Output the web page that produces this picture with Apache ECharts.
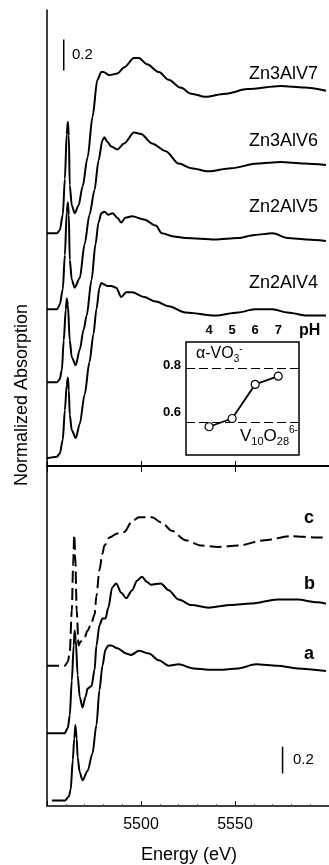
<!DOCTYPE html>
<html>
<head>
<meta charset="utf-8">
<script src="https://cdn.jsdelivr.net/npm/echarts@6/dist/echarts.min.js"></script>
<style>
html, body { margin: 0; padding: 0; background: #fff; }
#main { width: 329px; height: 865px; }
</style>
</head>
<body>
<div id="main"></div>
<script>
// spectra as [energy eV, normalized absorption + stacking offset]
var zn3alv7 = [[5450,1.50],[5455.3,1.50],[5456.8,1.52],[5458.4,1.62],[5459.5,1.85],[5460.5,2.14],[5461.1,2.22],[5461.6,2.13],[5462.1,1.81],[5463.2,1.68],[5464.7,1.63],[5466.8,1.68],[5468.9,1.80],[5471.6,1.99],[5474.2,2.25],[5476.8,2.49],[5478.9,2.54],[5480,2.54],[5483.2,2.52],[5487.4,2.53],[5491,2.57],[5496.3,2.63],[5498.9,2.63],[5503.2,2.59],[5509.5,2.54],[5514.7,2.49],[5521,2.44],[5526.8,2.40],[5534.2,2.38],[5544.7,2.40],[5556.8,2.43],[5574.2,2.45],[5586.8,2.44],[5598.4,2.42]];
var zn3alv6 = [[5450,1.01],[5455.3,1.01],[5456.8,1.04],[5458.4,1.14],[5459.5,1.36],[5460.5,1.64],[5461.1,1.70],[5461.6,1.62],[5462.1,1.33],[5463.2,1.20],[5464.7,1.15],[5467.4,1.21],[5470,1.43],[5472.6,1.62],[5475.3,1.78],[5477.4,1.97],[5479.5,2.10],[5480.5,2.12],[5482.1,2.09],[5484.2,2.06],[5487.4,2.04],[5491,2.08],[5496.3,2.15],[5500,2.14],[5505.8,2.08],[5513.2,2.03],[5520,1.95],[5526.8,1.92],[5535.8,1.90],[5547.9,1.92],[5562.1,1.95],[5574.2,1.96],[5586.8,1.95],[5598.4,1.94]];
var zn2alv5 = [[5450,0.54],[5455.3,0.54],[5456.8,0.56],[5457.9,0.62],[5458.9,0.81],[5460,1.01],[5460.5,1.08],[5461.1,1.04],[5462.1,0.81],[5463.2,0.70],[5465.3,0.65],[5467.4,0.75],[5469.5,0.88],[5471.1,0.97],[5473.7,1.20],[5475.8,1.43],[5477.4,1.57],[5478.9,1.63],[5480.5,1.64],[5482.6,1.62],[5485,1.63],[5487.4,1.60],[5489.5,1.57],[5491.6,1.60],[5495.3,1.61],[5501.6,1.59],[5507.9,1.55],[5511.1,1.50],[5517.4,1.48],[5523.7,1.47],[5539.5,1.46],[5551.6,1.47],[5560.5,1.49],[5570,1.50],[5577.9,1.47],[5588.4,1.46],[5598.4,1.45]];
var zn2alv4 = [[5450,0.05],[5455.3,0.06],[5456.8,0.08],[5458.4,0.17],[5459.5,0.36],[5460.5,0.52],[5461.1,0.57],[5461.6,0.49],[5462.1,0.33],[5463.2,0.23],[5465.3,0.18],[5467.4,0.27],[5470,0.46],[5472.6,0.67],[5474.7,0.85],[5476.3,1.01],[5477.9,1.15],[5478.9,1.18],[5480.5,1.17],[5482.1,1.16],[5484.2,1.16],[5486.8,1.15],[5489.5,1.09],[5492.1,1.12],[5495.3,1.12],[5501.6,1.09],[5507.9,1.06],[5514.7,1.03],[5523.7,0.99],[5539.5,0.97],[5551.6,0.99],[5560.5,1.01],[5570,1.01],[5577.9,0.99],[5588.4,0.97],[5598.4,0.97]];

var refA = [[5452.6,0.04],[5459.5,0.04],[5461.6,0.07],[5462.6,0.12],[5463.7,0.34],[5464.5,0.50],[5465.1,0.60],[5465.8,0.50],[5466.3,0.36],[5467.4,0.25],[5468.9,0.19],[5471.6,0.26],[5474.2,0.39],[5476.3,0.60],[5477.9,0.86],[5479.5,1.04],[5481.1,1.16],[5482.6,1.19],[5484.2,1.19],[5487.4,1.17],[5492.1,1.13],[5494.7,1.12],[5498.9,1.15],[5504.2,1.13],[5509.5,1.08],[5514.7,1.04],[5520,1.05],[5527.9,1.02],[5535.8,1.01],[5543.7,1.01],[5551.6,1.02],[5561.1,1.05],[5572.6,1.04],[5583.2,1.02],[5598.4,1.00]];
var refB = [[5450,0.54],[5459.5,0.54],[5461.1,0.58],[5462.1,0.67],[5463.2,0.93],[5464.2,1.19],[5464.7,1.30],[5465.3,1.23],[5466.3,0.97],[5467.4,0.81],[5468.9,0.73],[5470.5,0.81],[5471.6,0.87],[5473.7,0.89],[5475.3,1.01],[5476.3,1.19],[5477.9,1.34],[5479.5,1.39],[5481.1,1.39],[5482.6,1.47],[5484.7,1.62],[5486.8,1.65],[5489.5,1.58],[5492.1,1.54],[5495.3,1.60],[5497.9,1.67],[5500.5,1.70],[5503.2,1.66],[5505.3,1.64],[5510.5,1.65],[5514.7,1.60],[5520,1.53],[5526.8,1.49],[5535.8,1.47],[5547.9,1.49],[5558.4,1.50],[5572.6,1.53],[5583.2,1.53],[5593.7,1.51],[5598.4,1.50]];
var refC = [[5450,1.04],[5459.5,1.04],[5461.1,1.07],[5462.1,1.14],[5463.2,1.45],[5463.9,1.79],[5464.5,2.01],[5465,1.86],[5465.8,1.45],[5466.8,1.19],[5467.9,1.22],[5470,1.25],[5471.6,1.30],[5473.7,1.36],[5475.3,1.42],[5476.3,1.56],[5477.9,1.75],[5479.5,1.87],[5480.5,1.93],[5483.2,1.99],[5487.4,2.02],[5491,2.03],[5495.3,2.11],[5498.9,2.14],[5505.8,2.14],[5511.1,2.10],[5516.3,2.04],[5523.7,1.97],[5532.1,1.93],[5541.1,1.92],[5551.6,1.93],[5565.8,1.97],[5579.5,2.00],[5593.7,1.99],[5598.4,1.99]];

// inset: pre-edge ratio vs pH
var insetPH = [4, 5, 6, 7];
var insetRatio = [0.54, 0.575, 0.72, 0.755];
var refLevels = [0.79, 0.555];

// 0.2 scale bars
var barTop = [[5458.9, 2.55], [5458.9, 2.75]];
var barBottom = [[5575.3, 0.24], [5575.3, 0.44]];

var energyLabels = [5500, 5550];

var font = 'Liberation Sans, Arial, Helvetica, sans-serif';
var chart = echarts.init(document.getElementById('main'));

function curve(data, xi, yi, dash) {
    return {
        type: 'line', data: data, xAxisIndex: xi, yAxisIndex: yi,
        showSymbol: false, smooth: 0.3, smoothMonotone: 'x',
        lineStyle: { color: '#000', width: 2, type: dash || 'solid' },
        silent: true
    };
}
function bar(data, xi, yi) {
    return {
        type: 'line', data: data, xAxisIndex: xi, yAxisIndex: yi,
        showSymbol: false, lineStyle: { color: '#000', width: 1.5 }, silent: true
    };
}
var ex = {
    type: 'value', min: 5450, max: 5600, interval: 50,
    axisLine: { show: true, lineStyle: { color: '#000', width: 1.5 } },
    axisTick: { show: true, inside: true, length: 5, lineStyle: { color: '#000', width: 1 } },
    axisLabel: { show: false },
    splitLine: { show: false }
};
function xa(extra) { return Object.assign({}, ex, extra); }

var option = {
    animation: false,
    backgroundColor: '#fff',
    grid: [
        { left: 47, top: 10, width: 285, height: 456 },
        { left: 47, top: 466, width: 285, height: 340 },
        { left: 186, top: 342, width: 113, height: 113, show: true, borderColor: '#000', borderWidth: 1.5, backgroundColor: '#fff', z: 5 }
    ],
    xAxis: [
        xa({ gridIndex: 0, position: 'top', axisTick: { inside: true, length: 6, lineStyle: { color: '#000' } } }),
        xa({ gridIndex: 0, position: 'bottom' }),
        xa({ gridIndex: 1, position: 'bottom',
            axisLabel: { show: true, customValues: energyLabels, color: '#000', fontSize: 16, fontFamily: font, margin: 11,
                         formatter: function (v) { return String(v); } },
            minorTick: { show: true, splitNumber: 5, length: 2, lineStyle: { color: '#555' } } }),
        xa({ gridIndex: 1, position: 'top' }),
        { type: 'value', gridIndex: 2, position: 'top', min: 3, max: 7.9,
          axisLine: { show: false },
          axisTick: { show: true, inside: true, length: 4, customValues: insetPH, lineStyle: { color: '#000' } },
          axisLabel: { show: true, customValues: insetPH, color: '#000', fontSize: 13, fontWeight: 'bold', fontFamily: font, margin: 5 },
          splitLine: { show: false } },
        { type: 'value', gridIndex: 2, position: 'bottom', min: 3, max: 7.9,
          axisLine: { show: false },
          axisTick: { show: true, inside: true, length: 4, customValues: insetPH, lineStyle: { color: '#000' } },
          axisLabel: { show: false }, splitLine: { show: false } }
    ],
    yAxis: [
        { type: 'value', gridIndex: 0, min: 0, max: 2.94,
          axisLine: { show: true, lineStyle: { color: '#000', width: 1.5 } },
          axisTick: { show: false }, axisLabel: { show: false }, splitLine: { show: false } },
        { type: 'value', gridIndex: 1, min: 0, max: 2.52,
          axisLine: { show: true, lineStyle: { color: '#000', width: 1.5 } },
          axisTick: { show: false }, axisLabel: { show: false }, splitLine: { show: false } },
        { type: 'value', gridIndex: 2, min: 0.42, max: 0.9,
          axisLine: { show: false },
          axisTick: { show: true, inside: true, length: 4, customValues: [0.6, 0.8], lineStyle: { color: '#000' } },
          axisLabel: { show: true, customValues: [0.6, 0.8], color: '#000', fontSize: 13, fontWeight: 'bold', fontFamily: font, margin: 5,
                       formatter: function (v) { return v.toFixed(1); } },
          splitLine: { show: false } }
    ],
    series: [
        curve(zn3alv7, 0, 0),
        curve(zn3alv6, 0, 0),
        curve(zn2alv5, 0, 0),
        curve(zn2alv4, 0, 0),
        curve(refA, 2, 1),
        curve(refB, 2, 1),
        curve(refC, 2, 1, [12, 5]),
        bar(barTop, 0, 0),
        bar(barBottom, 2, 1),
        {
            type: 'line', xAxisIndex: 4, yAxisIndex: 2, z: 6,
            data: insetPH.map(function (p, i) { return [p, insetRatio[i]]; }),
            symbol: 'circle', symbolSize: 8,
            itemStyle: { color: '#fff', borderColor: '#000', borderWidth: 1.2 },
            lineStyle: { color: '#000', width: 1.8 },
            markLine: {
                silent: true, symbol: 'none', label: { show: false },
                lineStyle: { color: '#000', width: 1, type: [9, 4] },
                data: refLevels.map(function (v) { return { yAxis: v }; })
            }
        }
    ],
    graphic: [
        { type: 'text', left: 72, top: 47, style: { text: '0.2', font: '15px ' + font, fill: '#000' } },
        { type: 'text', left: 293, top: 752, style: { text: '0.2', font: '15px ' + font, fill: '#000' } },
        { type: 'text', right: 11, top: 65, style: { text: 'Zn3AlV7', font: '18px ' + font, fill: '#000' } },
        { type: 'text', right: 11, top: 132, style: { text: 'Zn3AlV6', font: '18px ' + font, fill: '#000' } },
        { type: 'text', right: 11, top: 198, style: { text: 'Zn2AlV5', font: '18px ' + font, fill: '#000' } },
        { type: 'text', right: 11, top: 274, style: { text: 'Zn2AlV4', font: '18px ' + font, fill: '#000' } },
        { type: 'text', left: 304, top: 509, style: { text: 'c', font: 'bold 18px ' + font, fill: '#000' } },
        { type: 'text', left: 304, top: 575, style: { text: 'b', font: 'bold 18px ' + font, fill: '#000' } },
        { type: 'text', left: 304, top: 645, style: { text: 'a', font: 'bold 18px ' + font, fill: '#000' } },
        { type: 'text', left: 299, top: 323, style: { text: 'pH', font: 'bold 16px ' + font, fill: '#000' } },
        { type: 'text', left: 196, top: 344, z: 10, style: {
            text: '{t|α-VO}{s|3}{p|-}', fill: '#000',
            rich: {
                t: { fontSize: 16, fontFamily: font, lineHeight: 20 },
                s: { fontSize: 10, fontFamily: font, lineHeight: 10, verticalAlign: 'bottom' },
                p: { fontSize: 10, fontFamily: font, lineHeight: 10, verticalAlign: 'top' }
            } } },
        { type: 'text', left: 240, top: 425, z: 10, style: {
            text: '{t|V}{s|10}{t|O}{s|28}{p|6-}', fill: '#000',
            rich: {
                t: { fontSize: 17, fontFamily: font, lineHeight: 22 },
                s: { fontSize: 11, fontFamily: font, lineHeight: 10, verticalAlign: 'bottom' },
                p: { fontSize: 10, fontFamily: font, lineHeight: 10, verticalAlign: 'top' }
            } } },
        { type: 'text', x: 22, y: 395, rotation: Math.PI / 2, style: {
            text: 'Normalized Absorption', font: '18px ' + font, fill: '#000', align: 'center', verticalAlign: 'middle' } },
        { type: 'text', x: 189, y: 855, style: {
            text: 'Energy (eV)', font: '18px ' + font, fill: '#000', align: 'center', verticalAlign: 'middle' } }
    ]
};
chart.setOption(option);
</script>
</body>
</html>
